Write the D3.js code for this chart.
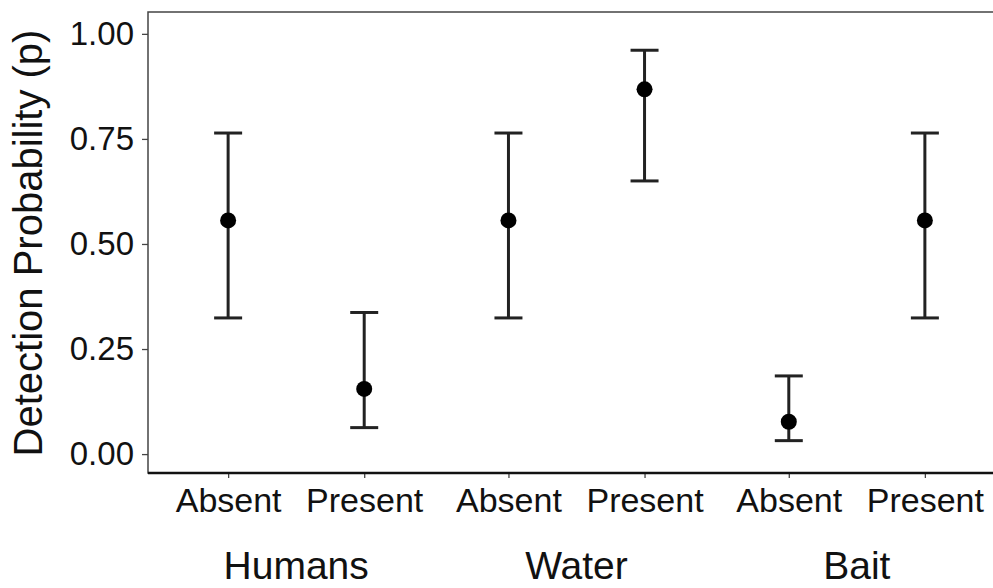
<!DOCTYPE html>
<html>
<head>
<meta charset="utf-8">
<script src="https://cdn.jsdelivr.net/npm/d3@7"></script>
<style>
  body { margin: 0; background: white; }
  text { font-family: "Liberation Sans", Arial, sans-serif; fill: #111; }
</style>
</head>
<body>
<svg width="993" height="588"></svg>
<script>
// data
var groups = ["Humans", "Water", "Bait"];
var levels = ["Absent", "Present"];
var estimates = [0.556, 0.155, 0.556, 0.868, 0.077, 0.556];
var lowerCI = [0.324, 0.063, 0.324, 0.650, 0.032, 0.324];
var upperCI = [0.764, 0.337, 0.764, 0.961, 0.186, 0.764];
var yTicks = [0, 0.25, 0.5, 0.75, 1];

var rows = [];
groups.forEach(function(g, gi) {
    levels.forEach(function(l, li) {
        var i = gi * levels.length + li;
        rows.push({group: g, level: l, p: estimates[i], lo: lowerCI[i], hi: upperCI[i]});
    });
});

var svg = d3.select("svg"),
panel = {left: 148, top: 12, bottom: 473};

var x0 = d3.scaleBand().domain(groups).range([156, 997]);
var x1 = d3.scalePoint().domain(levels).range([0, x0.bandwidth()]).padding(0.53);
var y = d3.scaleLinear().domain([-0.045, 1.052]).range([panel.bottom, panel.top]);

var capHalf = 14;

// panel frame
svg.append("rect")
    .attr("x", panel.left)
    .attr("y", panel.top)
    .attr("width", 900)
    .attr("height", panel.bottom - panel.top)
    .attr("fill", "none")
    .attr("stroke", "#444")
    .attr("stroke-width", 1.5);

// y axis
var yAxis = svg.append("g")
    .attr("transform", "translate(" + panel.left + ",0)")
    .call(d3.axisLeft(y).tickValues(yTicks).tickFormat(d3.format(".2f")).tickSize(6).tickPadding(8));
yAxis.select(".domain").remove();
yAxis.selectAll("line").attr("stroke", "#444").attr("stroke-width", 1.3);
yAxis.selectAll("text")
    .style("font-family", "Liberation Sans, Arial, sans-serif")
    .style("font-size", "33px")
    .attr("fill", "#111");

// x axis, one per group
groups.forEach(function(g) {
    var ax = svg.append("g")
        .attr("transform", "translate(" + x0(g) + "," + panel.bottom + ")")
        .call(d3.axisBottom(x1).tickSize(5).tickPadding(10));
    ax.select(".domain").remove();
    ax.selectAll("line").attr("stroke", "#444").attr("stroke-width", 1.3);
    ax.selectAll("text")
        .style("font-family", "Liberation Sans, Arial, sans-serif")
        .style("font-size", "34px")
        .attr("fill", "#111");
});

svg.append("line")
    .attr("x1", panel.left)
    .attr("x2", 993)
    .attr("y1", panel.bottom)
    .attr("y2", panel.bottom)
    .attr("stroke", "#111")
    .attr("stroke-width", 2.5);

// group labels
svg.selectAll(".glabel")
    .data(groups)
    .enter().append("text")
    .attr("class", "glabel")
    .attr("x", function(d) { return x0(d) + x0.bandwidth() / 2; })
    .attr("y", 579)
    .attr("text-anchor", "middle")
    .style("font-size", "39px")
    .text(function(d) { return d; });

// y title
svg.append("text")
    .attr("transform", "translate(42,243) rotate(-90)")
    .attr("text-anchor", "middle")
    .style("font-size", "40px")
    .text("Detection Probability (p)");

// error bars
var cx = function(d) { return x0(d.group) + x1(d.level); };
var bars = svg.selectAll(".err")
    .data(rows)
    .enter().append("g")
    .attr("class", "err")
    .attr("stroke", "#222")
    .attr("stroke-width", 3);

bars.append("line")
    .attr("x1", cx).attr("x2", cx)
    .attr("y1", function(d) { return y(d.lo); })
    .attr("y2", function(d) { return y(d.hi); });
bars.append("line")
    .attr("x1", function(d) { return cx(d) - capHalf; })
    .attr("x2", function(d) { return cx(d) + capHalf; })
    .attr("y1", function(d) { return y(d.hi); })
    .attr("y2", function(d) { return y(d.hi); });
bars.append("line")
    .attr("x1", function(d) { return cx(d) - capHalf; })
    .attr("x2", function(d) { return cx(d) + capHalf; })
    .attr("y1", function(d) { return y(d.lo); })
    .attr("y2", function(d) { return y(d.lo); });

// points
svg.selectAll(".pt")
    .data(rows)
    .enter().append("circle")
    .attr("class", "pt")
    .attr("cx", cx)
    .attr("cy", function(d) { return y(d.p); })
    .attr("r", 8)
    .attr("fill", "black");
</script>
</body>
</html>
